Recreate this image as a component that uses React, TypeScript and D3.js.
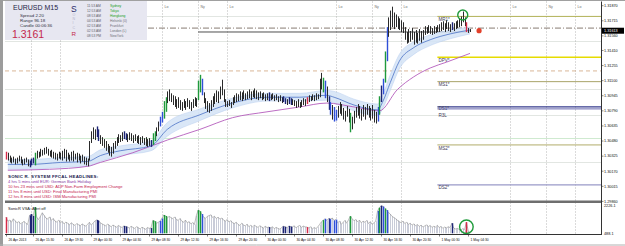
import React from "react";
import * as d3 from "d3";

// ---------- DATA ----------
const highs = [
  1.3037, 1.3036, 1.3033, 1.3031, 1.3032, 1.3030, 1.3031, 1.3033, 1.3032, 1.3029,
  1.3030, 1.3031, 1.3029, 1.3028, 1.3030, 1.3031, 1.3036, 1.3038, 1.3037, 1.3040,
  1.3039, 1.3041, 1.3042, 1.3040, 1.3038, 1.3039, 1.3037, 1.3036, 1.3035, 1.3037,
  1.3036, 1.3038, 1.3040, 1.3039, 1.3036, 1.3034, 1.3037, 1.3038, 1.3035, 1.3036,
  1.3035, 1.3033, 1.3034, 1.3032, 1.3031, 1.3030, 1.3048, 1.3058, 1.3062, 1.3060,
  1.3063, 1.3060, 1.3054, 1.3052, 1.3050, 1.3048, 1.3045, 1.3043, 1.3042, 1.3046,
  1.3048, 1.3052, 1.3055, 1.3054, 1.3057, 1.3058, 1.3056, 1.3055, 1.3057, 1.3056,
  1.3054, 1.3055, 1.3053, 1.3054, 1.3052, 1.3053, 1.3051, 1.3052, 1.3050, 1.3051,
  1.3049, 1.3056, 1.3058, 1.3062, 1.3068, 1.3073, 1.3078, 1.3089, 1.3093, 1.3099,
  1.3101, 1.3097, 1.3095, 1.3094, 1.3091, 1.3093, 1.3090, 1.3088, 1.3091, 1.3089,
  1.3092, 1.3090, 1.3088, 1.3091, 1.3093, 1.3092, 1.3110, 1.3116, 1.3112, 1.3098,
  1.3092, 1.3089, 1.3087, 1.3090, 1.3094, 1.3097, 1.3100, 1.3099, 1.3104, 1.3111,
  1.3101, 1.3091, 1.3089, 1.3090, 1.3088, 1.3093, 1.3095, 1.3097, 1.3096, 1.3099,
  1.3098, 1.3100, 1.3097, 1.3099, 1.3101, 1.3099, 1.3100, 1.3102, 1.3100, 1.3098,
  1.3099, 1.3097, 1.3098, 1.3096, 1.3097, 1.3098, 1.3096, 1.3097, 1.3095, 1.3096,
  1.3094, 1.3095, 1.3093, 1.3094, 1.3092, 1.3091, 1.3093, 1.3092, 1.3091, 1.3090,
  1.3089, 1.3091, 1.3088, 1.3090, 1.3092, 1.3091, 1.3093, 1.3095, 1.3094, 1.3096,
  1.3095, 1.3097, 1.3096, 1.3112, 1.3118, 1.3113, 1.3110, 1.3104, 1.3094, 1.3088,
  1.3085, 1.3083, 1.3080, 1.3084, 1.3088, 1.3086, 1.3082, 1.3079, 1.3084, 1.3081,
  1.3077, 1.3073, 1.3079, 1.3083, 1.3086, 1.3084, 1.3081, 1.3085, 1.3083, 1.3086,
  1.3084, 1.3082, 1.3085, 1.3080, 1.3078, 1.3083, 1.3094, 1.3105, 1.3112, 1.3140,
  1.3165, 1.3175, 1.3182, 1.3186, 1.3180, 1.3178, 1.3176, 1.3174, 1.3172, 1.3170,
  1.3165, 1.3160, 1.3163, 1.3161, 1.3164, 1.3160, 1.3162, 1.3159, 1.3163, 1.3161,
  1.3162, 1.3166, 1.3165, 1.3167, 1.3166, 1.3164, 1.3166, 1.3165, 1.3167, 1.3168,
  1.3170, 1.3171, 1.3169, 1.3172, 1.3170, 1.3168, 1.3170, 1.3169, 1.3171, 1.3172,
  1.3174, 1.3176, 1.3181, 1.3175, 1.3170, 1.3164, 1.3163,
];

const lows = [
  1.3029, 1.3028, 1.3026, 1.3025, 1.3026, 1.3024, 1.3025, 1.3027, 1.3025, 1.3023,
  1.3024, 1.3026, 1.3022, 1.3021, 1.3023, 1.3025, 1.3023, 1.3030, 1.3031, 1.3032,
  1.3033, 1.3034, 1.3035, 1.3033, 1.3032, 1.3031, 1.3030, 1.3029, 1.3028, 1.3030,
  1.3029, 1.3028, 1.3030, 1.3027, 1.3029, 1.3027, 1.3028, 1.3027, 1.3029, 1.3026,
  1.3028, 1.3025, 1.3027, 1.3024, 1.3023, 1.3022, 1.3028, 1.3046, 1.3050, 1.3049,
  1.3052, 1.3048, 1.3045, 1.3043, 1.3041, 1.3038, 1.3036, 1.3033, 1.3032, 1.3035,
  1.3040, 1.3043, 1.3046, 1.3047, 1.3048, 1.3050, 1.3049, 1.3047, 1.3049, 1.3048,
  1.3046, 1.3048, 1.3046, 1.3045, 1.3044, 1.3046, 1.3044, 1.3043, 1.3042, 1.3043,
  1.3042, 1.3044, 1.3048, 1.3053, 1.3058, 1.3063, 1.3067, 1.3071, 1.3078, 1.3087,
  1.3089, 1.3088, 1.3085, 1.3083, 1.3081, 1.3082, 1.3080, 1.3079, 1.3082, 1.3080,
  1.3083, 1.3081, 1.3079, 1.3082, 1.3084, 1.3083, 1.3090, 1.3098, 1.3095, 1.3087,
  1.3081, 1.3078, 1.3077, 1.3079, 1.3083, 1.3086, 1.3088, 1.3087, 1.3091, 1.3095,
  1.3088, 1.3083, 1.3083, 1.3084, 1.3082, 1.3085, 1.3087, 1.3088, 1.3089, 1.3090,
  1.3089, 1.3091, 1.3090, 1.3091, 1.3092, 1.3090, 1.3093, 1.3092, 1.3091, 1.3090,
  1.3092, 1.3090, 1.3091, 1.3089, 1.3090, 1.3089, 1.3090, 1.3091, 1.3089, 1.3090,
  1.3088, 1.3089, 1.3087, 1.3088, 1.3086, 1.3085, 1.3086, 1.3085, 1.3085, 1.3084,
  1.3082, 1.3083, 1.3082, 1.3083, 1.3085, 1.3084, 1.3086, 1.3088, 1.3089, 1.3090,
  1.3089, 1.3090, 1.3091, 1.3093, 1.3101, 1.3098, 1.3092, 1.3088, 1.3080, 1.3075,
  1.3070, 1.3068, 1.3069, 1.3072, 1.3076, 1.3074, 1.3070, 1.3068, 1.3073, 1.3067,
  1.3057, 1.3060, 1.3066, 1.3072, 1.3074, 1.3071, 1.3069, 1.3073, 1.3070, 1.3075,
  1.3072, 1.3069, 1.3071, 1.3067, 1.3066, 1.3068, 1.3075, 1.3088, 1.3096, 1.3108,
  1.3130, 1.3155, 1.3162, 1.3165, 1.3163, 1.3165, 1.3163, 1.3162, 1.3160, 1.3159,
  1.3152, 1.3148, 1.3149, 1.3150, 1.3152, 1.3147, 1.3149, 1.3148, 1.3151, 1.3149,
  1.3152, 1.3157, 1.3158, 1.3159, 1.3158, 1.3157, 1.3158, 1.3159, 1.3160, 1.3160,
  1.3161, 1.3162, 1.3160, 1.3163, 1.3161, 1.3160, 1.3162, 1.3161, 1.3163, 1.3164,
  1.3165, 1.3166, 1.3170, 1.3166, 1.3160, 1.3159, 1.3160,
];

const volumes = [
  1500, 1250, 1320, 1180, 1400, 1280, 1150, 1220, 1090, 1160,
  1240, 1110, 1050, 1620, 1700, 1580, 2140, 1480, 1350, 1560,
  1780, 1620, 1450, 1380, 1520, 1300, 1420, 1260, 1200, 1310,
  1150, 1240, 1080, 1190, 1120, 1020, 1150, 1060, 980, 1100,
  1030, 960, 1080, 1000, 940, 1050, 1180, 1010, 1120, 1260,
  1330, 1290, 1150, 1080, 1020, 960, 1060, 990, 900, 1010,
  940, 870, 980, 910, 850, 950, 920, 880, 820, 930,
  860, 790, 900, 840, 760, 870, 810, 740, 850, 800,
  820, 1300, 1250, 1120, 1180, 1260, 1420, 1640, 1580, 1460,
  1550, 1480, 1400, 1520, 1360, 1300, 1420, 1250, 1180, 1320,
  1150, 1220, 1080, 1160, 1050, 1600, 1950, 1880, 1700, 1500,
  1420, 1550, 1600, 1650, 1480, 1560, 1420, 1500, 1380, 1450,
  1320, 1250, 1350, 1200, 1280, 1150, 1100, 1180, 1050, 980,
  1120, 1020, 950, 1060, 900, 990, 880, 1000, 920, 860,
  960, 890, 820, 930, 850, 880, 820, 900, 780, 860,
  800, 750, 840, 930, 900, 820, 950, 910, 880, 960,
  830, 920, 980, 860, 940, 890, 880, 820, 900, 760,
  850, 790, 880, 1050, 1200, 1320, 1400, 1300, 1420, 1380,
  1450, 1300, 1350, 1150, 1250, 1050, 1180, 1300, 1120, 1350,
  1570, 1400, 1280, 1350, 1200, 1320, 1150, 1250, 1180, 1300,
  1100, 1220, 1050, 1150, 1250, 1900, 2100, 2226.1, 2180, 2050,
  1950, 1800, 1700, 1550, 1480, 1400, 1300, 1220, 1150, 1250,
  1100, 1180, 1050, 1120, 1000, 1080, 960, 1040, 920, 1000,
  880, 950, 1020, 900, 980, 860, 930, 880, 990, 850,
  920, 800, 880, 830, 900, 850, 1125, 820, 760, 800,
  740, 700, 780, 720, 1190, 650, 488.1,
];

// VSA bar classes (bar indices)
const redBars = [0, 166, 254];
const greenBars = [16, 81, 82, 87, 88, 106, 107, 175, 190, 206, 209];
const blueBars = [85, 86, 108, 176, 179, 181, 182, 205, 208, 210];
const navyBars = [13, 14, 15, 50, 51, 65, 66, 80, 145, 153, 154, 156, 157, 178, 207, 246];

// Moving averages read at sample bars
const maIdx = [1, 13, 30, 45, 52, 63, 80, 89, 107, 125, 144, 162, 177, 181, 192, 205, 208, 212, 217, 225, 234, 245, 256];
const blueMA = [1.3024, 1.3024, 1.3026, 1.3027, 1.3033, 1.3038, 1.3043, 1.3060, 1.3075, 1.3087, 1.3093, 1.3093, 1.3095, 1.3093, 1.3085, 1.3080, 1.3089, 1.3108, 1.3130, 1.3144, 1.3152, 1.3158, 1.3162];
const bandUpper = [1.3029, 1.3029, 1.3031, 1.3032, 1.3039, 1.3043, 1.3048, 1.3067, 1.3081, 1.3092, 1.3097, 1.3097, 1.3100, 1.3099, 1.3091, 1.3086, 1.3096, 1.3116, 1.3137, 1.3150, 1.3157, 1.3162, 1.3165];
const bandLower = [1.3019, 1.3019, 1.3021, 1.3022, 1.3027, 1.3033, 1.3038, 1.3053, 1.3069, 1.3082, 1.3089, 1.3089, 1.3090, 1.3087, 1.3079, 1.3074, 1.3082, 1.3100, 1.3122, 1.3137, 1.3146, 1.3153, 1.3158];
const purpleIdx = [1, 24, 45, 52, 70, 89, 107, 125, 144, 162, 177, 192, 206, 216, 225, 234, 243, 256];
const purpleMA = [1.3018, 1.3019, 1.3022, 1.3026, 1.3036, 1.3049, 1.3060, 1.3072, 1.3078, 1.3083, 1.3087, 1.3083, 1.3079, 1.3101, 1.3114, 1.3123, 1.3129, 1.3138];

// Levels
const pivotNames = ["MR1*", "DPV*", "MS1*", "DS1*", "R3L", "MS2*", "DS2*"];
const pivotPrices = [1.3176, 1.3134, 1.3109, 1.3083, 1.3081, 1.3044, 1.3003];
const pivotStartBar = 238;
const faintLevels = [1.3176, 1.3151, 1.3101, 1.3075, 1.3026];
const greenFaintLevel = 1.3051;
const dashLevelDark = 1.3164;
const dashLevelLight = 1.3120;
const bidLinePrice = 1.3160;
const bidLineStartBar = 106;
const currentPrice = 1.31613;
const currentMarkerBar = 261;
const circledBar = 252;
const circledVolBar = 254;

// Axes
const priceTickLabels = ["1.31870", "1.31715", "1.31560", "1.31410", "1.31255", "1.31100", "1.30945", "1.30790", "1.30635", "1.30480", "1.30325", "1.30170", "1.30015", "1.29860"];
const volTickLabels = ["2226.1", "488.1"];
const timeLabels = ["26 Apr 2013", "26 Apr 15:30", "26 Apr 19:30", "29 Apr 00:30", "29 Apr 04:30", "29 Apr 08:30", "29 Apr 12:30", "29 Apr 16:30", "29 Apr 20:30", "30 Apr 00:30", "30 Apr 04:30", "30 Apr 08:30", "30 Apr 12:30", "30 Apr 16:30", "30 Apr 20:30", "1 May 00:30", "1 May 04:30"];
const timeLabelBars = [0, 15, 31, 47, 63, 79, 95, 111, 127, 143, 159, 175, 191, 207, 223, 239, 255];
const sessionBars = [14, 30, 86, 106, 122, 182, 202, 218, 278, 298, 314];
const sessionNames = ["Ny", "Lo", "Lo", "Ny", "Lo", "Lo", "Ny", "Lo", "Lo", "Ny", "Lo"];

// Info panel
const clockTimes = ["11:53 AM", "12:53 AM", "08:53 AM", "04:53 AM", "02:53 AM", "02:53 AM", "08:53 PM"];
const clockCities = ["Sydney", "Tokyo", "Hongkong", "Helsinki  (0)", "Frankfurt", "London  (L)", "NewYork"];
const citiesOpen = [true, true, true, false, false, false, false];
const headlineTitle = "SONIC R. SYSTEM FFCAL HEADLINES:";
const headlines = [
  "4 hrs 5 mins until EUR: German Bank Holiday",
  "10 hrs 23 mins until USD: ADP Non-Farm Employment Change",
  "11 hrs 8 mins until USD: Final Manufacturing PMI",
  "12 hrs 8 mins until USD: ISM Manufacturing PMI",
];

// ---------- CHART ----------
const FONT = "'Liberation Sans', Arial, sans-serif";
const W = 625, H = 246;
const PL = 5, PR = 601, MT = 1.5, MB = 200.5, IB = 234.5;
const PANEL_R = 147;

export default function App() {
  const xs = d3.scaleLinear().domain([0, 256]).range([6, 470]);
  const ys = d3.scaleLinear().domain([1.2986, 1.3187]).range([201.4, 5.7]);
  const vs = d3.scaleLinear().domain([488.1, 2226.1]).range([233.3, 205.7]);

  const colorOf = (i: number): string | null => {
    if (redBars.includes(i)) return "#d62a48";
    if (greenBars.includes(i)) return "#1f9a3c";
    if (blueBars.includes(i)) return "#2f4fd8";
    if (navyBars.includes(i)) return "#1c2475";
    return null;
  };
  const px = (i: number) => Math.round(xs(i)) + 0.5;

  const band = d3
    .area<number>()
    .x((_, k) => xs(maIdx[k]))
    .y0((_, k) => ys(bandLower[k]))
    .y1((_, k) => ys(bandUpper[k]))
    .curve(d3.curveMonotoneX);
  const maLine = d3.line<number>().x((_, k) => xs(maIdx[k])).y((d) => ys(d)).curve(d3.curveMonotoneX);
  const purpleLine = d3.line<number>().x((_, k) => xs(purpleIdx[k])).y((d) => ys(d)).curve(d3.curveMonotoneX);
  const volLine = d3.line<number>().x((_, i) => xs(i)).y((d) => vs(d));

  const pivotStyle: Record<string, [string, number, number]> = {
    "MR1*": ["#b4b45a", 1, 4.6],
    "DPV*": ["#e6dc00", 1.6, 4.6],
    "MS1*": ["#a8a468", 1, 4.6],
    "DS1*": ["#343a8c", 1.2, 3.4],
    "R3L": ["#6868b0", 1, 7.6],
    "MS2*": ["#b2ac6a", 1, 4.6],
    "DS2*": ["#9a9ac8", 1.2, 4.6],
  };

  const n = Math.min(highs.length, lows.length);
  const bars = d3.range(n);
  const curY = ys(currentPrice);

  return (
    <svg width={W} height={H} style={{ position: "absolute", left: 0, top: 0, background: "#fff" }} fontFamily={FONT}>
      {/* frame */}
      <rect x={0} y={0} width={3} height={H} fill="#9c9c9c" />
      <line x1={3} x2={W} y1={0.5} y2={0.5} stroke="#a0a0a0" />

      {/* faint horizontal levels */}
      {faintLevels.map((p, k) => (
        <line key={"f" + k} x1={PL} x2={PR} y1={Math.round(ys(p)) + 0.5} y2={Math.round(ys(p)) + 0.5} stroke="#e2e6e2" />
      ))}
      <line x1={PL} x2={PR} y1={Math.round(ys(greenFaintLevel)) + 0.5} y2={Math.round(ys(greenFaintLevel)) + 0.5} stroke="#cfead0" />

      {/* session lines */}
      {sessionBars.map((b, k) => (
        <g key={"s" + k}>
          <line x1={px(b)} x2={px(b)} y1={MT} y2={IB} stroke="#a4a4a4" strokeWidth={0.8} strokeDasharray="1,2" />
          {px(b) > PANEL_R ? (
            <text x={px(b) + 2} y={8} fontSize={3.6} fill="#707070">{sessionNames[k]}</text>
          ) : null}
        </g>
      ))}

      {/* dash-dot levels */}
      <line x1={PL} x2={PR} y1={ys(dashLevelDark)} y2={ys(dashLevelDark)} stroke="#6a5a4e" strokeWidth={0.8} strokeDasharray="6,2,1,2" />
      <line x1={PL} x2={PR} y1={ys(dashLevelLight)} y2={ys(dashLevelLight)} stroke="#cfa37e" strokeWidth={0.8} strokeDasharray="4,3" />

      {/* pivot levels */}
      {pivotNames.map((nm, k) => {
        const y = ys(pivotPrices[k]);
        const [c, w, dy] = pivotStyle[nm];
        return (
          <g key={"p" + k}>
            <line x1={xs(pivotStartBar)} x2={PR} y1={y} y2={y} stroke={c} strokeWidth={w} />
            <text x={xs(pivotStartBar) + 1} y={y + dy} fontSize={4.6} fill="#404058">{nm}</text>
          </g>
        );
      })}

      {/* bid line */}
      <line x1={xs(bidLineStartBar)} x2={xs(n - 1)} y1={ys(bidLinePrice)} y2={ys(bidLinePrice)} stroke="#222" strokeWidth={0.8} />

      {/* MA band and lines */}
      <path d={band(blueMA) || ""} fill="#d3e3f6" fillOpacity={0.85} />
      <path d={maLine(bandUpper) || ""} fill="none" stroke="#b6cdee" strokeWidth={0.5} />
      <path d={maLine(bandLower) || ""} fill="none" stroke="#b6cdee" strokeWidth={0.5} />
      <path d={purpleLine(purpleMA) || ""} fill="none" stroke="#b45cbc" strokeWidth={0.9} />
      <path d={maLine(blueMA) || ""} fill="none" stroke="#4b72c6" strokeWidth={0.8} />

      {/* price bars */}
      {bars.map((i) => {
        const c = colorOf(i);
        return (
          <line key={"b" + i} x1={px(i)} x2={px(i)} y1={ys(highs[i])} y2={ys(lows[i])}
            stroke={c || "#2a2a2a"} strokeWidth={c ? 1.4 : 1} />
        );
      })}

      {/* annotations */}
      <circle cx={xs(circledBar)} cy={ys(highs[circledBar]) + 3.5} r={5} fill="none" stroke="#1e9a3a" strokeWidth={1.4} />
      <circle cx={xs(currentMarkerBar)} cy={curY} r={2.6} fill="#e2402a" />

      {/* info panel */}
      <rect x={PL} y={1} width={PANEL_R - PL} height={39} fill="#e7e7f1" />
      <text x={13} y={10} fontSize={7} fill="#1e1e46">EURUSD  M15</text>
      <text x={20} y={17} fontSize={4.4} fill="#303040">Spread  2.20</text>
      <text x={20} y={22} fontSize={4.4} fill="#303040">Range  96.18</text>
      <text x={20} y={27} fontSize={4.4} fill="#303040">Candle  00:06:36</text>
      <text x={12} y={38} fontSize={10.5} fill="#c4284c">1.3161</text>
      <text x={71} y={12} fontSize={8.5} fill="#2a2a6a">S</text>
      {["O", "N", "I", "C"].map((ch, k) => (
        <text key={"l" + k} x={72.5} y={16 + k * 4.2} fontSize={3.6} fill="#b4b4cc">{ch}</text>
      ))}
      <text x={71.5} y={35.5} fontSize={6.2} fill="#c4284c">R</text>
      {clockTimes.map((t, k) => (
        <text key={"t" + k} x={87} y={7.3 + k * 5} fontSize={3.3} fill="#606068">{t}</text>
      ))}
      {clockCities.map((c, k) => (
        <text key={"c" + k} x={110} y={7.3 + k * 5} fontSize={3.4} fill={citiesOpen[k] ? "#22a022" : "#707078"}>{c}</text>
      ))}

      {/* headlines */}
      <text x={8} y={178.3} fontSize={4.4} fontWeight="bold" fill="#20204e" letterSpacing={0.25}>{headlineTitle}</text>
      {headlines.map((h, k) => (
        <text key={"h" + k} x={8} y={183.3 + k * 5} fontSize={4.1} fill={k === 0 ? "#8a3ca6" : "#c4204e"}>{h}</text>
      ))}

      {/* separator */}
      <rect x={PL} y={MB} width={PR - PL + 1} height={2.5} fill="#6e6e6e" />

      {/* indicator panel */}
      {bars.map((i) => {
        const c = colorOf(i);
        if (c) return null;
        return <line key={"v" + i} x1={px(i)} x2={px(i)} y1={vs(488.1)} y2={vs(volumes[i])} stroke="#c9ccd8" strokeWidth={1} />;
      })}
      <path d={volLine(volumes.slice(0, n)) || ""} fill="none" stroke="#8e8e8e" strokeWidth={0.6} />
      {bars.map((i) => {
        const c = colorOf(i);
        if (!c) return null;
        return <line key={"vc" + i} x1={px(i)} x2={px(i)} y1={vs(488.1)} y2={vs(volumes[i])} stroke={c} strokeWidth={1.5} />;
      })}
      <circle cx={xs(circledVolBar)} cy={(vs(volumes[circledVolBar]) + vs(488.1)) / 2 - 1} r={6.8} fill="none" stroke="#1e9a3a" strokeWidth={1.4} />
      <text x={8} y={209.5} fontSize={4} fill="#202020">SonicR VSA:  Alert off</text>

      {/* axes frame */}
      <line x1={PR + 0.5} x2={PR + 0.5} y1={MT} y2={IB} stroke="#333" />
      <line x1={PL} x2={PR + 1} y1={IB} y2={IB} stroke="#333" />

      {/* price axis */}
      {priceTickLabels.map((t, k) => {
        const y = ys(parseFloat(t));
        return (
          <g key={"pt" + k}>
            <line x1={PR} x2={PR + 2.5} y1={y} y2={y} stroke="#333" strokeWidth={0.6} />
            <text x={604} y={y + 1.3} fontSize={3.8} fill="#111">{t}</text>
          </g>
        );
      })}
      <rect x={602} y={curY - 3} width={22} height={6} fill="#000" />
      <text x={604} y={curY + 1.4} fontSize={3.8} fill="#fff">{currentPrice.toFixed(5)}</text>
      {volTickLabels.map((t, k) => (
        <text key={"vt" + k} x={604} y={vs(parseFloat(t)) + 1.3} fontSize={3.8} fill="#111">{t}</text>
      ))}

      {/* time axis */}
      {timeLabels.map((t, k) => {
        const x = px(timeLabelBars[k]);
        return (
          <g key={"tl" + k}>
            <line x1={x} x2={x} y1={IB} y2={IB + 2} stroke="#333" strokeWidth={0.6} />
            <text x={x + 2} y={240.5} fontSize={3.3} fill="#111">{t}</text>
          </g>
        );
      })}
      <line x1={0} x2={W} y1={245} y2={245} stroke="#b0b0b0" />
    </svg>
  );
}
